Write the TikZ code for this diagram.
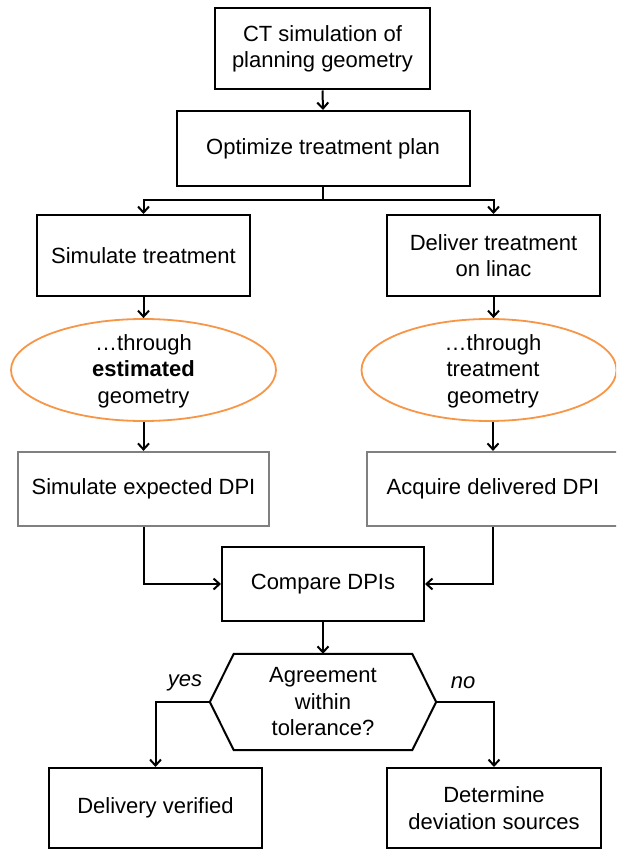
\documentclass[tikz,border=0pt]{standalone}
\usepackage{fontspec}
\setmainfont{Liberation Sans}
\usetikzlibrary{arrows.meta,shapes.geometric}
\definecolor{ellorange}{HTML}{F79646}
\definecolor{boxgray}{HTML}{808080}
\tikzset{
  txt/.style={font=\fontsize{22}{26.5}\selectfont, align=center},
  bbox/.style={txt, draw=black, line width=2pt, inner sep=0pt},
  gbox/.style={txt, draw=boxgray, line width=2.2pt, inner sep=0pt},
  ell/.style={ellipse, draw=ellorange, line width=1.8pt, inner sep=0pt},
  arr/.style={draw=black, line width=2pt, -{Straight Barb[length=6pt,width=11pt,line width=2pt]}},
  lin/.style={draw=black, line width=2pt},
  lbl/.style={font=\fontsize{22}{26.5}\selectfont\itshape}
}
\begin{document}
\begin{tikzpicture}[x=1pt,y=-1pt]
\useasboundingbox (0,0) rectangle (616,850);
\clip (0,0) rectangle (616,850);
\fill[white] (0,0) rectangle (616,850);

\node[bbox, minimum width=215pt, minimum height=81pt] (ct) at (322.5,49) {CT simulation of\\planning geometry};
\node[bbox, minimum width=293pt, minimum height=75pt] (opt) at (323,148.5) {Optimize treatment plan};
\node[bbox, minimum width=213pt, minimum height=81pt] (sim) at (143.5,255.5) {Simulate treatment};
\node[bbox, minimum width=213pt, minimum height=81pt] (del) at (493.5,255.5) {Deliver treatment\\on linac};

\node[ell, minimum width=265pt, minimum height=102pt] (ellL) at (143.5,370) {};
\node[txt] (ellLt) at (ellL.center) {\strut\ldots through\\\textbf{estimated}\\geometry};
\node[ell, minimum width=255pt, minimum height=102pt] (ellR) at (489,370) {};
\node[txt] (ellRt) at (493,370) {\strut\ldots through\\treatment\\geometry};

\node[gbox, minimum width=251pt, minimum height=74pt] (exp) at (143.5,489) {Simulate expected DPI};
\node[gbox, minimum width=252pt, minimum height=74pt] (acq) at (493,489) {Acquire delivered DPI};

\node[bbox, minimum width=202pt, minimum height=74pt] (cmp) at (323,584) {Compare DPIs};

\node[txt, minimum width=226pt, minimum height=96pt, inner sep=0pt] (dec) at (323,702) {Agreement\\within\\tolerance?};
\draw[lin] ([xshift=24pt]dec.north west) -- ([xshift=-24pt]dec.north east) -- (dec.east)
  -- ([xshift=-24pt]dec.south east) -- ([xshift=24pt]dec.south west) -- (dec.west) -- cycle;

\node[bbox, minimum width=213pt, minimum height=80pt] (ver) at (155.5,808) {Delivery verified};
\node[bbox, minimum width=214pt, minimum height=80pt] (dev) at (494,808) {Determine\\deviation sources};

\node[lbl] (yes) at (185,683) {yes};
\node[lbl] (no) at (463,683) {no};

\coordinate (br) at (323,200);
\draw[arr] (ct.south) -- (opt.north);
\draw[lin] (opt.south) -- (br);
\draw[arr] (br) -| (sim.north);
\draw[arr] (br) -| (del.north);
\draw[arr] (sim.south) -- (sim.south |- ellL.north);
\draw[arr] (del.south) -- (del.south |- ellR.north);
\draw[arr] (ellL.south) -- (exp.north);
\draw[arr] (acq.north |- ellR.south) -- (acq.north);
\draw[arr] (exp.south) |- (cmp.west);
\draw[arr] (acq.south) |- (cmp.east);
\draw[arr] (cmp.south) -- (dec.north);
\draw[arr] (dec.west) -| (ver.north);
\draw[arr] (dec.east) -| (dev.north);
\end{tikzpicture}
\end{document}
